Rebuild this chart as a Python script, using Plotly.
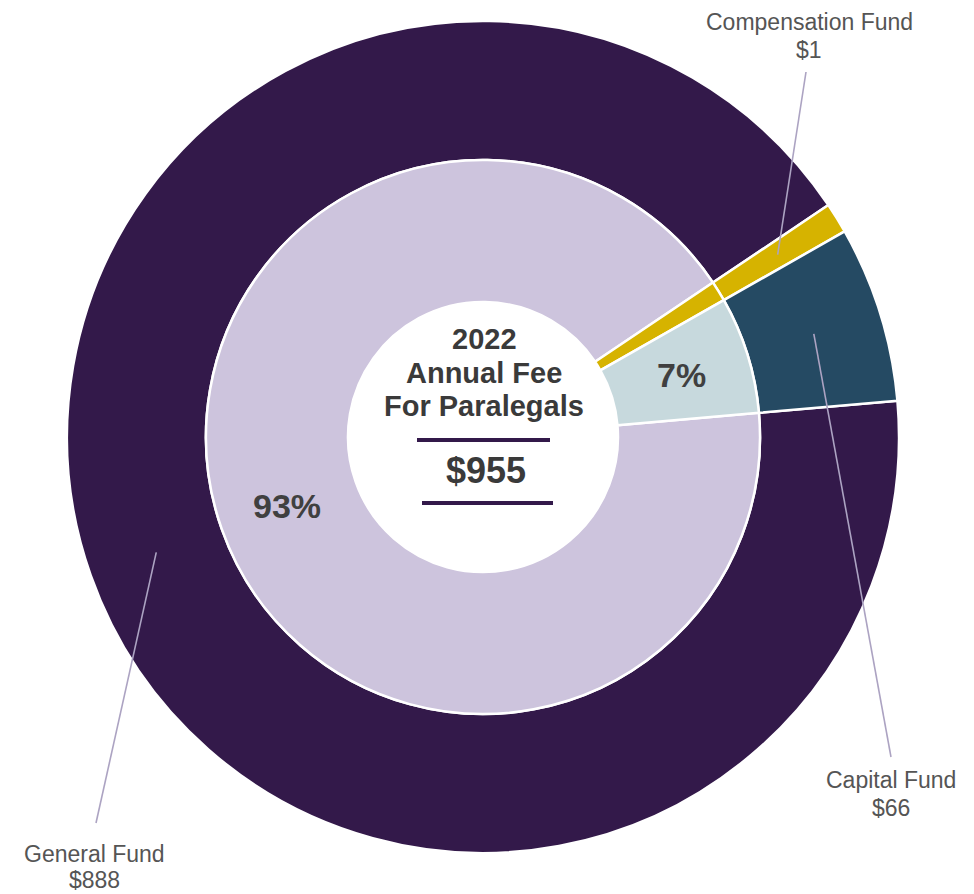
import math
import plotly.graph_objects as go

# ---- data ----
funds = ["General Fund", "Compensation Fund", "Capital Fund"]
amounts = [888, 1, 66]
total_fee = 955
year = 2022
title_lines = [str(year), "Annual Fee", "For Paralegals"]

outer_colors = ["#33194a", "#d6b300", "#254a63"]
inner_colors = ["#cdc4dd", "#d6b300", "#c7d9dd"]

# ---- geometry (pixels) ----
W, H = 974, 894
CX, CY = 483, 437
R_OUT, R_MID, R_HOLE = 416, 277, 135
START_CLOCK = 85          # clock angle (deg from 12 o'clock, clockwise) of first slice start
MIN_SHARE = 0.012         # tiny slices drawn at a minimum visible share

total = sum(amounts)
disp = [max(v, MIN_SHARE * total) for v in amounts]
dtot = sum(disp)


def px_to_paper(x, y):
    return x / W, 1 - y / H


def dom(r):
    x0, y0 = px_to_paper(CX - r, CY + r)
    x1, y1 = px_to_paper(CX + r, CY - r)
    return dict(x=[x0, x1], y=[y0, y1])


fig = go.Figure()
fig.add_trace(go.Pie(
    labels=funds, values=disp, sort=False, direction="clockwise",
    rotation=START_CLOCK, hole=R_MID / R_OUT, domain=dom(R_OUT),
    marker=dict(colors=outer_colors, line=dict(color="white", width=2.5)),
    textinfo="none", hoverinfo="skip", showlegend=False,
))
fig.add_trace(go.Pie(
    labels=funds, values=disp, sort=False, direction="clockwise",
    rotation=START_CLOCK, hole=R_HOLE / R_MID, domain=dom(R_MID),
    marker=dict(colors=inner_colors, line=dict(color="white", width=2.5)),
    textinfo="none", hoverinfo="skip", showlegend=False,
))

# mid angles of slices (standard math degrees, CCW from 3 o'clock)
mids = []
acc = START_CLOCK
for d in disp:
    span = d / dtot * 360
    mid_clock = acc + span / 2
    mids.append(90 - mid_clock)
    acc += span


def polar_px(ang, r):
    a = math.radians(ang)
    return CX + r * math.cos(a), CY - r * math.sin(a)


annotations = []
shapes = []
FONT = "Liberation Sans, Arial"

# percentage labels in the inner ring
for i, (v, ang) in enumerate(zip(amounts, mids)):
    pct = round(v / total * 100)
    if pct < 2:
        continue
    x, y = polar_px(ang, (R_HOLE + R_MID) / 2 + 2)
    px, py = px_to_paper(x, y)
    annotations.append(dict(x=px, y=py, xref="paper", yref="paper", text=f"<b>{pct}%</b>",
                            showarrow=False, font=dict(family=FONT, size=34, color="#404040"),
                            xanchor="center", yanchor="middle"))

# outside labels with leader lines (label centre, spacing, leader end)
label_pos = {
    "General Fund": ((94, 854, 26), (96, 823)),
    "Compensation Fund": ((809, 22, 28), (806, 72)),
    "Capital Fund": ((891, 780, 28), (891, 757)),
}
for name, v, ang in zip(funds, amounts, mids):
    (lx, ly, gap), (ex, ey) = label_pos[name]
    for j, t in enumerate([name, f"${v}"]):
        px, py = px_to_paper(lx, ly + j * gap)
        annotations.append(dict(x=px, y=py, xref="paper", yref="paper", text=t, showarrow=False,
                                font=dict(family=FONT, size=23, color="#555555"),
                                xanchor="center", yanchor="middle"))
    sx, sy = polar_px(ang, (R_MID + R_OUT) / 2)
    x0, y0 = px_to_paper(sx, sy)
    x1, y1 = px_to_paper(ex, ey)
    shapes.append(dict(type="line", xref="paper", yref="paper", x0=x0, y0=y0, x1=x1, y1=y1,
                       line=dict(color="#aca3c2", width=1.6)))

# center text
center_y = [339, 373, 406]
for t, yy in zip(title_lines, center_y):
    px, py = px_to_paper(CX + 1, yy)
    annotations.append(dict(x=px, y=py, xref="paper", yref="paper", text=f"<b>{t}</b>", showarrow=False,
                            font=dict(family=FONT, size=29, color="#3a3a3a"),
                            xanchor="center", yanchor="middle"))
px, py = px_to_paper(CX + 3, 471)
annotations.append(dict(x=px, y=py, xref="paper", yref="paper", text=f"<b>${total_fee}</b>", showarrow=False,
                        font=dict(family=FONT, size=36, color="#3a3a3a"),
                        xanchor="center", yanchor="middle"))
for (xa, xb, yy) in [(417, 550, 440), (422, 553, 503)]:
    x0, y0 = px_to_paper(xa, yy)
    x1, y1 = px_to_paper(xb, yy)
    shapes.append(dict(type="line", xref="paper", yref="paper", x0=x0, y0=y0, x1=x1, y1=y1,
                       line=dict(color="#33194a", width=4)))

fig.update_layout(
    width=W, height=H, margin=dict(l=0, r=0, t=0, b=0),
    paper_bgcolor="white", plot_bgcolor="white",
    annotations=annotations, shapes=shapes, showlegend=False,
)
fig.write_html("out.html", config={"displayModeBar": False},
               post_script="document.body.style.margin='0px';")
